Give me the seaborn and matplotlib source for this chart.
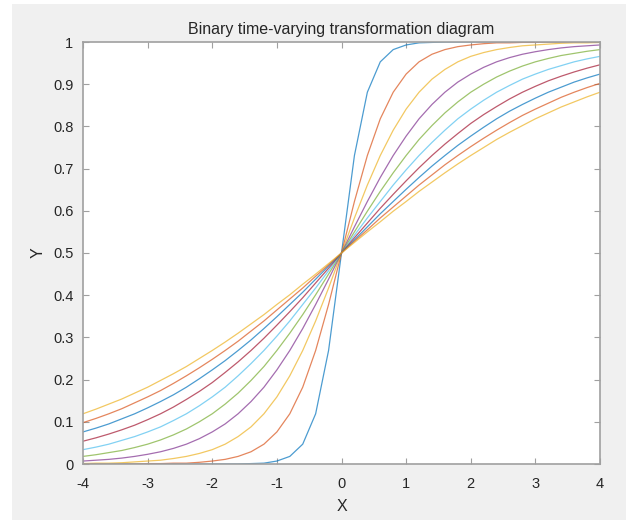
import numpy as np
import pandas as pd
import seaborn as sns
import matplotlib
matplotlib.use("Agg")
import matplotlib.pyplot as plt
from matplotlib.patches import Rectangle

x = [-4.0, -3.8, -3.6, -3.4, -3.2, -3.0, -2.8, -2.6, -2.4, -2.2, -2.0,
     -1.8, -1.6, -1.4, -1.2, -1.0, -0.8, -0.6, -0.4, -0.2, 0.0,
     0.2, 0.4, 0.6, 0.8, 1.0, 1.2, 1.4, 1.6, 1.8, 2.0,
     2.2, 2.4, 2.6, 2.8, 3.0, 3.2, 3.4, 3.6, 3.8, 4.0]

y1 = [0.0, 0.0, 0.0, 0.0, 0.0, 0.0, 0.0, 0.0, 0.0, 0.0, 0.0, 0.0, 0.0,
      0.001, 0.002, 0.007, 0.018, 0.047, 0.119, 0.269, 0.5,
      0.731, 0.881, 0.953, 0.982, 0.993, 0.998, 0.999,
      1.0, 1.0, 1.0, 1.0, 1.0, 1.0, 1.0, 1.0, 1.0, 1.0, 1.0, 1.0, 1.0]
y2 = [0.0, 0.0, 0.0, 0.0, 0.0, 0.001, 0.001, 0.002, 0.002, 0.004,
      0.007, 0.011, 0.018, 0.029, 0.047, 0.076, 0.119, 0.182, 0.269, 0.378, 0.5,
      0.622, 0.731, 0.818, 0.881, 0.924, 0.953, 0.971, 0.982, 0.989, 0.993,
      0.996, 0.998, 0.998, 0.999, 0.999, 1.0, 1.0, 1.0, 1.0, 1.0]
y3 = [0.001, 0.002, 0.002, 0.003, 0.005, 0.007, 0.009, 0.013, 0.018, 0.025,
      0.034, 0.047, 0.065, 0.088, 0.119, 0.159, 0.209, 0.269, 0.339, 0.417, 0.5,
      0.583, 0.661, 0.731, 0.791, 0.841, 0.881, 0.912, 0.935, 0.953, 0.966,
      0.975, 0.982, 0.987, 0.991, 0.993, 0.995, 0.997, 0.998, 0.998, 0.999]
y4 = [0.007, 0.009, 0.011, 0.014, 0.018, 0.023, 0.029, 0.037, 0.047, 0.060,
      0.076, 0.095, 0.119, 0.148, 0.182, 0.223, 0.269, 0.321, 0.378, 0.438, 0.5,
      0.562, 0.622, 0.679, 0.731, 0.777, 0.818, 0.852, 0.881, 0.905, 0.924,
      0.940, 0.953, 0.963, 0.971, 0.977, 0.982, 0.986, 0.989, 0.991, 0.993]
y5 = [0.018, 0.022, 0.027, 0.032, 0.039, 0.047, 0.057, 0.069, 0.083, 0.100,
      0.119, 0.142, 0.168, 0.198, 0.231, 0.269, 0.310, 0.354, 0.401, 0.450, 0.5,
      0.550, 0.599, 0.646, 0.690, 0.731, 0.769, 0.802, 0.832, 0.858, 0.881,
      0.900, 0.917, 0.931, 0.943, 0.953, 0.961, 0.968, 0.973, 0.978, 0.982]
y6 = [0.034, 0.040, 0.047, 0.056, 0.065, 0.076, 0.088, 0.103, 0.119, 0.138,
      0.159, 0.182, 0.209, 0.238, 0.269, 0.303, 0.339, 0.378, 0.417, 0.458, 0.5,
      0.542, 0.583, 0.622, 0.661, 0.697, 0.731, 0.762, 0.791, 0.818, 0.841,
      0.862, 0.881, 0.897, 0.912, 0.924, 0.935, 0.944, 0.953, 0.960, 0.966]
y7 = [0.054, 0.062, 0.071, 0.081, 0.092, 0.105, 0.119, 0.135, 0.153, 0.172,
      0.193, 0.217, 0.242, 0.269, 0.298, 0.329, 0.361, 0.394, 0.429, 0.464, 0.5,
      0.536, 0.571, 0.606, 0.639, 0.671, 0.702, 0.731, 0.758, 0.783, 0.807,
      0.828, 0.847, 0.865, 0.881, 0.895, 0.908, 0.919, 0.929, 0.938, 0.946]
y8 = [0.076, 0.085, 0.095, 0.107, 0.119, 0.133, 0.148, 0.164, 0.182, 0.202,
      0.223, 0.245, 0.269, 0.294, 0.321, 0.349, 0.378, 0.407, 0.438, 0.469, 0.5,
      0.531, 0.562, 0.593, 0.622, 0.651, 0.679, 0.706, 0.731, 0.755, 0.777,
      0.798, 0.818, 0.836, 0.852, 0.867, 0.881, 0.893, 0.905, 0.915, 0.924]
y9 = [0.098, 0.108, 0.119, 0.131, 0.145, 0.159, 0.174, 0.191, 0.209, 0.228,
      0.248, 0.269, 0.291, 0.315, 0.339, 0.365, 0.391, 0.417, 0.445, 0.472, 0.5,
      0.528, 0.555, 0.583, 0.609, 0.635, 0.661, 0.685, 0.709, 0.731, 0.752,
      0.772, 0.791, 0.809, 0.826, 0.841, 0.855, 0.869, 0.881, 0.892, 0.902]
y10 = [0.119, 0.130, 0.142, 0.154, 0.168, 0.182, 0.198, 0.214, 0.231, 0.250,
       0.269, 0.289, 0.310, 0.332, 0.354, 0.378, 0.401, 0.426, 0.450, 0.475, 0.5,
       0.525, 0.550, 0.574, 0.599, 0.622, 0.646, 0.668, 0.690, 0.711, 0.731,
       0.750, 0.769, 0.786, 0.802, 0.818, 0.832, 0.846, 0.858, 0.870, 0.881]

series = [y1, y2, y3, y4, y5, y6, y7, y8, y9, y10]
colors = ['#0072BD', '#D95319', '#EDB120', '#7E2F8E', '#77AC30',
          '#4DBEEE', '#A2142F', '#0072BD', '#D95319', '#EDB120']

xticks = [-4, -3, -2, -1, 0, 1, 2, 3, 4]
xticklabels = ['-4', '-3', '-2', '-1', '0', '1', '2', '3', '4']
yticks = [0, 0.1, 0.2, 0.3, 0.4, 0.5, 0.6, 0.7, 0.8, 0.9, 1]
yticklabels = ['0', '0.1', '0.2', '0.3', '0.4', '0.5', '0.6', '0.7', '0.8', '0.9', '1']

sns.set_theme(style="white")
plt.rcParams['font.family'] = ['Liberation Sans', 'DejaVu Sans']

fig = plt.figure(figsize=(6.3, 5.2), dpi=100, facecolor='white')
fig.patches.append(Rectangle((12 / 630, 0), (626 - 12) / 630, 516 / 520,
                             transform=fig.transFigure, facecolor='#F0F0F0',
                             edgecolor='none', zorder=-10))
ax = fig.add_axes([83 / 630, 1 - 464 / 520, (600 - 83) / 630, (464 - 42) / 520])
ax.set_facecolor('white')

for i, (ys, c) in enumerate(zip(series, colors)):
    df = pd.DataFrame({'x': x, 'y': ys})
    sns.lineplot(data=df, x='x', y='y', ax=ax, color=c, linewidth=0.9,
                 alpha=0.7, legend=False)

ax.set_xlim(-4, 4)
ax.set_ylim(0, 1)
ax.set_xticks(xticks)
ax.set_xticklabels(xticklabels)
ax.set_yticks(yticks)
ax.set_yticklabels(yticklabels)
ax.tick_params(direction='in', length=4, width=0.8, colors='#A0A0A0',
               labelcolor='#262626', labelsize=10.5, top=True, right=True,
               bottom=True, left=True)
ax.tick_params(axis='x', pad=9)
ax.tick_params(axis='y', pad=7)
for s in ax.spines.values():
    s.set_color('#A0A0A0')
    s.set_linewidth(1.2)
    s.set_visible(True)

ax.set_xlabel('X', fontsize=11.5, color='#262626', labelpad=6)
ax.set_ylabel('Y', fontsize=11.5, color='#262626', labelpad=5)
ax.set_title('Binary time-varying transformation diagram', fontsize=11.5,
             color='#262626', pad=6)

fig.savefig('out.png', dpi=100, facecolor='white')
